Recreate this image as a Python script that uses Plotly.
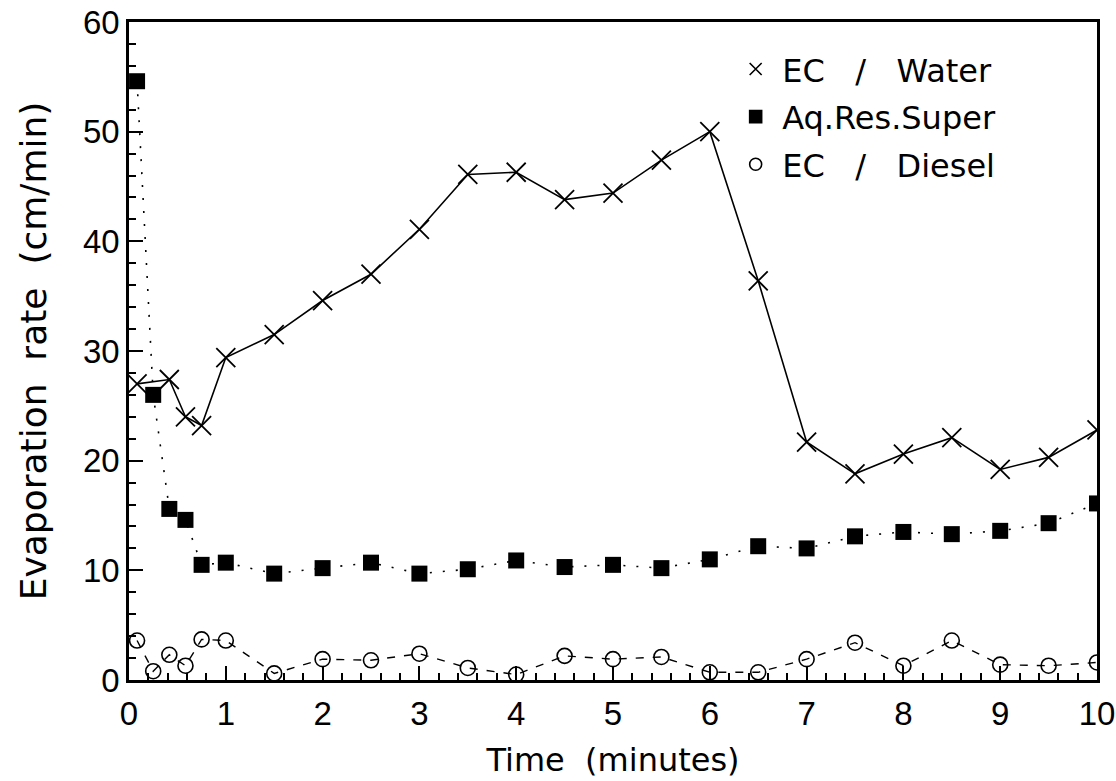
import plotly.graph_objects as go

time_min = [1/12, 0.25, 5/12, 7/12, 0.75, 1.0, 1.5, 2.0, 2.5, 3.0, 3.5, 4.0, 4.5,
            5.0, 5.5, 6.0, 6.5, 7.0, 7.5, 8.0, 8.5, 9.0, 9.5, 10.0]
ec_water = [27.0, None, 27.4, 24.0, 23.2, 29.4, 31.5, 34.6, 37.0, 41.1, 46.1, 46.3, 43.8,
            44.4, 47.4, 50.0, 36.4, 21.7, 18.8, 20.6, 22.1, 19.2, 20.3, 22.8]
aq_res_super = [54.6, 26.0, 15.6, 14.6, 10.5, 10.7, 9.7, 10.2, 10.7, 9.7, 10.1, 10.9, 10.3,
                10.5, 10.2, 11.0, 12.2, 12.0, 13.1, 13.5, 13.3, 13.6, 14.3, 16.1]
ec_diesel = [3.6, 0.8, 2.3, 1.3, 3.7, 3.6, 0.6, 1.9, 1.8, 2.4, 1.1, 0.5, 2.2,
             1.9, 2.1, 0.7, 0.7, 1.9, 3.4, 1.3, 3.6, 1.4, 1.3, 1.6]
legend_names = ["EC   /   Water", "Aq.Res.Super", "EC   /   Diesel"]

FONT = "DejaVu Sans, sans-serif"
TICKFONT = "Liberation Sans, Arial, sans-serif"
NB = "\u00a0"

fig = go.Figure()

fig.add_trace(go.Scatter(x=time_min, y=ec_water, mode="lines+markers", connectgaps=True,
                         line=dict(color="black", width=1.6),
                         marker=dict(symbol="x-thin-open", size=19, color="black",
                                     line=dict(color="black", width=1.8)),
                         showlegend=False))
fig.add_trace(go.Scatter(x=time_min, y=aq_res_super, mode="lines+markers",
                         line=dict(color="black", width=1.6, dash="2px,11px"),
                         marker=dict(symbol="square", size=16, color="black"),
                         showlegend=False))
fig.add_trace(go.Scatter(x=time_min, y=ec_diesel, mode="lines+markers",
                         line=dict(color="black", width=1.4, dash="8px,9px"),
                         marker=dict(symbol="circle-open", size=15, color="black",
                                     line=dict(color="black", width=1.6)),
                         showlegend=False))

# legend entries (markers only)
legend_symbols = ["x-thin-open", "square", "circle-open"]
for i, (nm, sym) in enumerate(zip(legend_names, legend_symbols)):
    fig.add_trace(go.Scatter(x=[None], y=[None], mode="markers", name=nm,
                             legendgroup=f"g{i}",
                             marker=dict(symbol=sym, size=12, color="black",
                                         line=dict(color="black", width=1.6))))

axis_common = dict(showgrid=False, zeroline=False, showline=True, linecolor="black",
                   linewidth=2.5, mirror=True, ticks="inside", tickcolor="black",
                   tickwidth=2, ticklen=14, automargin=False,
                   tickfont=dict(family=TICKFONT, size=33, color="black"))

fig.update_xaxes(range=[0, 10], dtick=1, tick0=0,
                 minor=dict(ticks="inside", dtick=0.2, ticklen=7, tickcolor="black", tickwidth=1.5),
                 title=dict(text="Time  (minutes)", font=dict(family=FONT, size=32, color="black"), standoff=18),
                 ticklabelstandoff=3, ticklabeloverflow="allow",
                 **axis_common)
fig.update_yaxes(range=[0, 60], dtick=10, tick0=0,
                 minor=dict(ticks="inside", dtick=2, ticklen=7, tickcolor="black", tickwidth=1.5),
                 title=dict(text=NB * 3 + "Evaporation  rate  (cm/min)",
                            font=dict(family=FONT, size=36, color="black"), standoff=26),
                 ticklabelstandoff=0, ticklabeloverflow="allow",
                 **axis_common)

fig.update_layout(
    width=1116, height=781,
    margin=dict(l=129, r=19, t=22, b=101),
    paper_bgcolor="white", plot_bgcolor="white",
    font=dict(family=FONT, color="black"),
    legend=dict(x=0.62, y=0.97, xanchor="left", yanchor="top",
                font=dict(family=FONT, size=32, color="black"),
                bgcolor="rgba(0,0,0,0)", borderwidth=0, itemwidth=43,
                tracegroupgap=3),
)

fig.write_html("out.html", config={"displayModeBar": False},
               post_script="document.body.style.margin='0';")
